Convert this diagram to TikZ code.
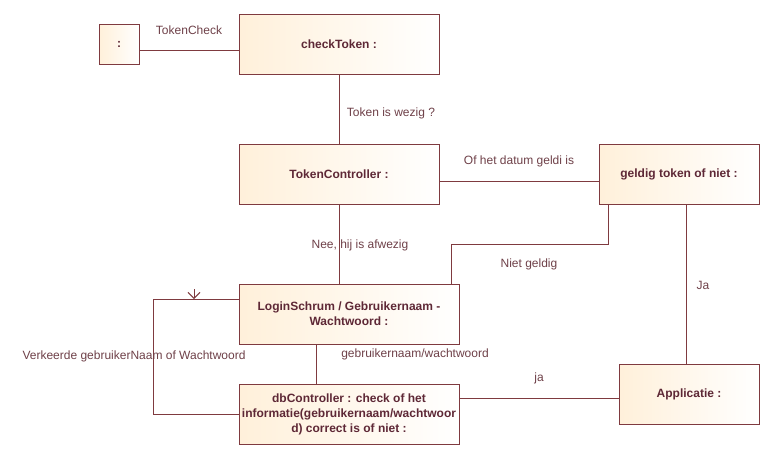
\documentclass[tikz,border=0pt]{standalone}
\usepackage{fontspec}
\setmainfont{Liberation Sans}
\usepackage{xcolor}
\usetikzlibrary{arrows.meta}
\definecolor{umlline}{HTML}{7F3A3F}
\definecolor{umltext}{HTML}{5E2836}
\definecolor{umllabel}{HTML}{6E4048}
\definecolor{umlfill}{HTML}{FFF0DA}

\begin{document}
\begin{tikzpicture}[x=0.75pt, y=-0.75pt,
	objbox/.style={font=\fontsize{9}{11.25}\selectfont\bfseries, text=umltext, draw=umlline, left color=umlfill, right color=white, inner sep=0, align=center},
	msg/.style={font=\fontsize{9}{11}\selectfont, text=umllabel, inner sep=0},
	link/.style={draw=umlline, line width=0.75pt}
]
\useasboundingbox (0,0) rectangle (770,461);

\node[objbox, minimum width=30pt, minimum height=30pt] (colon) at (119,44) {:};
\node[objbox, minimum width=150pt, minimum height=45pt] (check) at (339,44) {checkToken :};
\node[objbox, minimum width=150pt, minimum height=45pt] (tokctrl) at (339,174) {TokenController :};
\node[objbox, minimum width=120pt, minimum height=45pt] (geldig) at (679,174) {geldig token of niet :};
\node[objbox, minimum width=165pt, minimum height=45pt] (login) at (349,314) {LoginSchrum / Gebruikernaam -\\Wachtwoord :};
\node[objbox, minimum width=165pt, minimum height=45pt] (db) at (349,414) {dbController : check of het\\informatie(gebruikernaam/wachtwoor\\d) correct is of niet :};
\node[objbox, minimum width=105pt, minimum height=45pt] (app) at (689,394) {Applicatie :};
\coordinate (tip) at (194,299);

\draw[link]  ([yshift=-4.5pt]colon.east) -- ([yshift=-4.5pt]check.west);
\draw[link]  (check) -- (tokctrl);
\draw[link]  ([yshift=-5.25pt]tokctrl.east) -- ([yshift=-5.25pt]geldig.west);
\draw[link]  (tokctrl.south) -- (tokctrl.south |- login.north);
\draw[link]  ([xshift=7.5pt]geldig.south west) -- ++(0,40) -| ([xshift=-6pt]login.north east);
\draw[link]  ([xshift=-2.25pt]app.north) -- ([xshift=-2.25pt]app.north |- geldig.south);
\draw[link]  ([xshift=-24.75pt]login.south) -- ([xshift=-24.75pt]db.north);
\draw[link]  ([yshift=12pt]db.east) -- ([yshift=-3pt]app.west);
\draw[link]  (db.west) -- ++(-85,0) |- ([yshift=11.25pt]login.west);
\draw[link, -{Straight Barb[length=4.5pt, width=9pt]}]  (tip) ++(0,-10) -- (tip);

\node[msg] (lcheck) at (189,30) {TokenCheck};
\node[msg] (lwezig) at (391,113) {Token is wezig ?};
\node[msg] (ldatum) at (519,161) {Of het datum geldi is};
\node[msg] (lafw) at (360,245) {Nee, hij is afwezig};
\node[msg] (lniet) at (529,264) {Niet geldig};
\node[msg] (lja) at (703,285) {Ja};
\node[msg] (lverk) at (134,356) {Verkeerde gebruikerNaam of Wachtwoord};
\node[msg] (lgebr) at (415,354) {gebruikernaam/wachtwoord};
\node[msg] (lja2) at (539,378) {ja};
\end{tikzpicture}
\end{document}
